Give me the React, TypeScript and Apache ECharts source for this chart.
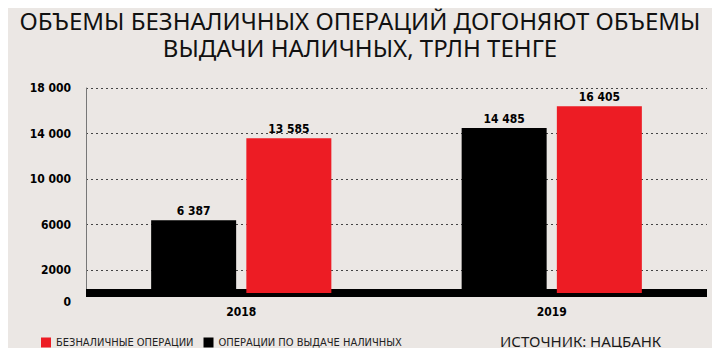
import React, { useEffect, useRef } from "react";
import * as echarts from "echarts";

const categories = ["2018", "2019"];
const cashOps = [6387, 14485];
const cashlessOps = [13585, 16405];
const seriesNames = ["ОПЕРАЦИИ ПО ВЫДАЧЕ НАЛИЧНЫХ", "БЕЗНАЛИЧНЫЕ ОПЕРАЦИИ"];
const shownTicks = [0, 2000, 6000, 10000, 14000, 18000];
const titleLines = ["ОБЪЕМЫ БЕЗНАЛИЧНЫХ ОПЕРАЦИЙ ДОГОНЯЮТ ОБЪЕМЫ", "ВЫДАЧИ НАЛИЧНЫХ, ТРЛН ТЕНГЕ"];

const NARROW = "'DejaVu Sans Condensed', 'Roboto', sans-serif";

function fmt(v: number): string {
  if (v < 10000) return String(v);
  const s = String(v);
  return s.slice(0, s.length - 3) + " " + s.slice(s.length - 3);
}

function fmtBar(v: number): string {
  const s = String(v);
  if (s.length <= 3) return s;
  return s.slice(0, s.length - 3) + " " + s.slice(s.length - 3);
}

export default function App() {
  const ref = useRef<HTMLDivElement>(null);
  useEffect(() => {
    if (!ref.current) return;
    const chart = echarts.init(ref.current, null, { renderer: "svg" });
    const barLabel = {
      show: true,
      position: "top",
      distance: 3,
      color: "#000",
      fontFamily: NARROW,
      fontWeight: "bold",
      fontSize: 12,
      formatter: (p: any) => fmtBar(p.value),
    };
    const titleStyle = {
      fontFamily: "'Noto Sans', sans-serif",
      fontWeight: "normal",
      fontSize: 24,
      lineHeight: 25,
      color: "#111",
    };
    chart.setOption({
      animation: false,
      backgroundColor: "#ebe7e4",
      title: [
        { text: titleLines[0], left: "center", top: 8, padding: 0, textStyle: titleStyle },
        { text: titleLines[1], left: "center", top: 35, padding: 0, textStyle: titleStyle },
        {
          text: "ИСТОЧНИК: НАЦБАНК",
          left: 495,
          top: 328,
          textStyle: {
            fontFamily: "'Noto Sans', sans-serif",
            fontWeight: "normal",
            fontSize: 15,
            color: "#1a1a1a",
          },
        },
      ],
      legend: {
        data: [seriesNames[1], seriesNames[0]],
        left: 36,
        top: 332,
        icon: "rect",
        itemWidth: 10,
        itemHeight: 10,
        itemGap: 10,
        textStyle: { fontFamily: NARROW, fontSize: 11, color: "#222" },
      },
      grid: { left: 86, right: 13, top: 88, bottom: 63, containLabel: false },
      xAxis: {
        type: "category",
        data: categories,
        axisLine: { show: true, onZero: true, lineStyle: { color: "#000", width: 8, cap: "butt" } },
        axisTick: { show: false },
        axisLabel: {
          margin: 13,
          color: "#000",
          fontFamily: NARROW,
          fontWeight: "bold",
          fontSize: 12,
        },
      },
      yAxis: {
        type: "value",
        min: 0,
        max: 18000,
        interval: 2000,
        axisLine: { show: true, lineStyle: { color: "#777", width: 1 } },
        axisTick: { show: false },
        axisLabel: {
          margin: 15,
          color: "#000",
          fontFamily: NARROW,
          fontWeight: "bold",
          fontSize: 12,
          formatter: (v: number) => {
            if (!shownTicks.includes(v)) return "";
            if (v === 0) return "{z|0}";
            return fmt(v);
          },
          rich: {
            z: {
              fontFamily: NARROW,
              fontWeight: "bold",
              fontSize: 12,
              color: "#000",
              padding: [18, 0, 0, 0],
            },
          },
        },
        splitLine: {
          show: true,
          lineStyle: {
            type: [2, 3],
            color: ["rgba(0,0,0,0)", "#444"],
            width: 1,
          },
        },
      },
      series: [
        {
          name: seriesNames[0],
          type: "bar",
          data: cashOps,
          barWidth: 85,
          barGap: "12%",
          itemStyle: { color: "#000" },
          label: barLabel,
        },
        {
          name: seriesNames[1],
          type: "bar",
          data: cashlessOps,
          barWidth: 85,
          barGap: "12%",
          itemStyle: { color: "#ed1c24" },
          label: barLabel,
        },
      ],
    });
    return () => chart.dispose();
  }, []);
  return <div ref={ref} style={{ width: 720, height: 356, margin: -8 }} />;
}
